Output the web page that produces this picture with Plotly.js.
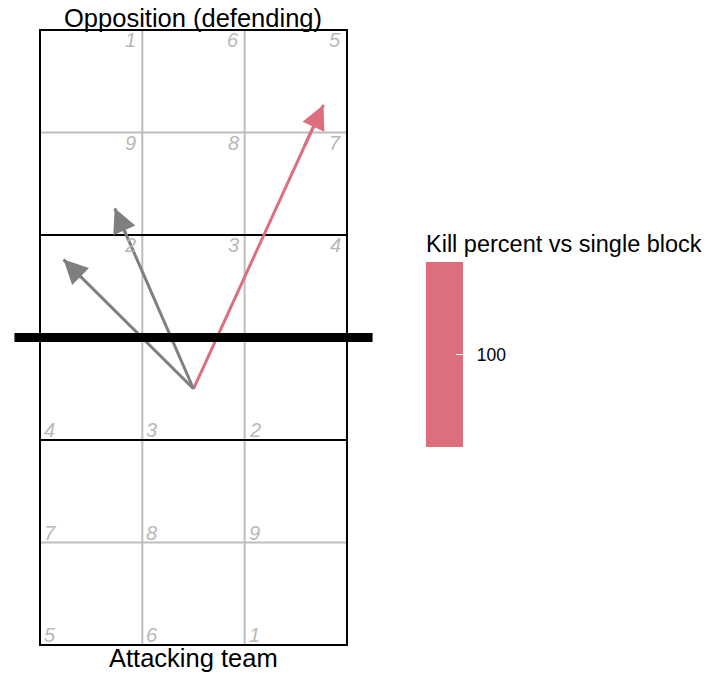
<!DOCTYPE html>
<html>
<head>
<meta charset="utf-8">
<script src="https://cdn.plot.ly/plotly-3.0.1.min.js"></script>
<style>html,body{margin:0;padding:0;background:#fff;}#chart{width:718px;height:675px;}</style>
</head>
<body>
<div id="chart"></div>
<script>
// ---- data ----
const oppZoneLabels = [1, 6, 5, 9, 8, 7, 2, 3, 4];      // opposition half, rows from back line to net
const ownZoneLabels = [4, 3, 2, 7, 8, 9, 5, 6, 1];      // attacking half, rows from net to back line
const attackStartX = [2.0, 2.0, 2.0];
const attackStartY = [3.0, 3.0, 3.0];
const attackEndX   = [3.27, 1.23, 0.73];
const attackEndY   = [5.77, 4.76, 4.26];
const killPercent  = [100, null, null];                 // kill percent vs single block (coloured attacks only)
const colorbarTicks = [100];
const topTitle = 'Opposition (defending)';
const bottomTitle = 'Attacking team';
const legendTitle = 'Kill percent vs single block';

// ---- styles ----
const KILL = '#DD6E7E';
const GREYARROW = '#7F7F7F';
const GRID = '#BEBEBE';
const ZONE = '#B8B8B8';
const FONT = 'Liberation Sans, Arial, Helvetica, sans-serif';

const colLeft = [0.5, 1.5, 2.5];
const shapes = [];
// grey zone lines
[1.5, 2.5].forEach(x => shapes.push({type:'line', layer:'below', x0:x, x1:x, y0:0.5, y1:6.5, line:{color:GRID, width:2}}));
[1.5, 5.5].forEach(y => shapes.push({type:'line', layer:'below', x0:0.5, x1:3.5, y0:y, y1:y, line:{color:GRID, width:2}}));
// attack lines (3 m)
[2.5, 4.5].forEach(y => shapes.push({type:'line', layer:'below', x0:0.5, x1:3.5, y0:y, y1:y, line:{color:'#000', width:2}}));
// court outline
shapes.push({type:'rect', layer:'below', x0:0.5, x1:3.5, y0:0.5, y1:6.5, line:{color:'#000', width:2}});
// net
shapes.push({type:'line', layer:'above', x0:0.25, x1:3.75, y0:3.5, y1:3.5, line:{color:'#000', width:9}});
// white tick on left side of colorbar
shapes.push({type:'line', xref:'paper', yref:'paper', x0:426/718, x1:433/718, y0:1-354.5/675, y1:1-354.5/675, line:{color:'#fff', width:1}, layer:'above'});

const annotations = [];
// zone numbers
oppZoneLabels.forEach((z, i) => {
  const c = i % 3, r = Math.floor(i / 3);
  annotations.push({x: colLeft[c] + 1 - 0.05, y: 6.5 - r - 0.098, xref:'x', yref:'y', text:'<i>' + z + '</i>',
    showarrow:false, xanchor:'right', yanchor:'middle', borderpad:0, font:{family:FONT, size:20, color:ZONE}});
});
ownZoneLabels.forEach((z, i) => {
  const c = i % 3, r = Math.floor(i / 3);
  annotations.push({x: colLeft[c] + 0.03, y: 2.5 - r + 0.093, xref:'x', yref:'y', text:'<i>' + z + '</i>',
    showarrow:false, xanchor:'left', yanchor:'middle', borderpad:0, font:{family:FONT, size:20, color:ZONE}});
});
// titles
annotations.push({x:2, y:6.62, xref:'x', yref:'y', text:topTitle, showarrow:false, xanchor:'center', yanchor:'middle',
  font:{family:FONT, size:25.5, color:'#000'}});
annotations.push({x:2, y:0.37, xref:'x', yref:'y', text:bottomTitle, showarrow:false, xanchor:'center', yanchor:'middle',
  font:{family:FONT, size:25.5, color:'#000'}});

const traces = [];
attackStartX.forEach((sx, i) => {
  const col = killPercent[i] == null ? GREYARROW : KILL;
  const ex = attackEndX[i], ey = attackEndY[i], sy = attackStartY[i];
  const tr = {type:'scatter', mode:'lines', x:[sx, ex], y:[sy, ey], line:{color:col, width:3}, hoverinfo:'skip', showlegend:false};
  if (killPercent[i] != null) {
    tr.mode = 'lines+markers';
    tr.marker = {size:0.1, opacity:0, color:[killPercent[i], killPercent[i]],
      colorscale:[[0, KILL], [1, KILL]], cmin:killPercent[i] - 50, cmax:killPercent[i] + 50, showscale:true,
      colorbar:{xref:'container', yref:'container', x:426/718, xanchor:'left', y:1 - 339/675, yanchor:'middle',
        thickness:37, thicknessmode:'pixels', len:216, lenmode:'pixels', xpad:0, ypad:0, outlinewidth:0,
        tickvals:colorbarTicks, ticktext:colorbarTicks.map(v => '\u00a0\u00a0' + v), ticks:'inside', ticklen:7, tickcolor:'#fff', tickwidth:1,
        tickfont:{family:FONT, size:17.5, color:'#000'},
        title:{text:legendTitle, side:'top', font:{family:FONT, size:23.5, color:'#000'}}}};
  }
  traces.push(tr);
  // arrow head
  annotations.push({x:ex, y:ey, ax:sx + 0.85 * (ex - sx), ay:sy + 0.85 * (ey - sy), xref:'x', yref:'y', axref:'x', ayref:'y',
    text:'', showarrow:true, arrowhead:2, arrowsize:1.6, arrowwidth:3, arrowcolor:col, standoff:0});
});

const layout = {
  width:718, height:675,
  margin:{l:0, r:0, t:0, b:0, pad:0, autoexpand:false},
  paper_bgcolor:'#fff', plot_bgcolor:'#fff',
  xaxis:{range:[0.109, 7.126], showgrid:false, zeroline:false, showticklabels:false, ticks:'', showline:false, fixedrange:true},
  yaxis:{range:[0.2073, 6.793], showgrid:false, zeroline:false, showticklabels:false, ticks:'', showline:false, fixedrange:true},
  shapes:shapes, annotations:annotations, showlegend:false,
  font:{family:FONT}
};
Plotly.newPlot('chart', traces, layout, {staticPlot:true, displayModeBar:false});
</script>
</body>
</html>
